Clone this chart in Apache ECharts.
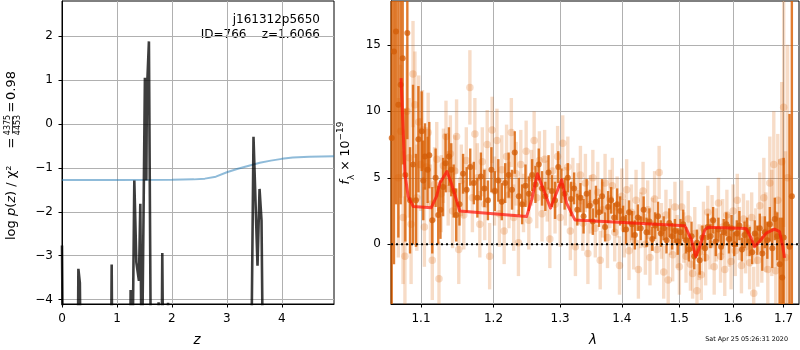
<!DOCTYPE html>
<html><head><meta charset="utf-8">
<script src="https://cdn.jsdelivr.net/npm/echarts@6/dist/echarts.min.js"></script>
<style>html,body{margin:0;padding:0;background:#fff}#c{width:800px;height:350px}</style>
</head><body><div id="c"></div>
<script>
// ---------- left panel: log p(z) ----------
const pzZ   = [0, 0.02, 0.285, 0.298, 0.325, 0.345, 0.89, 0.904, 0.918, 1.24, 1.249, 1.26, 1.278, 1.305, 1.316, 1.353, 1.389, 1.40, 1.425, 1.452, 1.509, 1.535, 1.545, 1.582, 1.62, 1.75, 1.758, 1.77, 1.81, 1.825, 1.845, 1.92, 1.93, 1.945, 3.44, 3.485, 3.558, 3.595, 3.631, 3.66, 4.95];
const pzLog = [-2.77, -6, -6, -3.30, -3.62, -6, -6, -3.20, -6, -6, -3.78, -3.80, -6, -6, -1.29, -3.15, -3.12, -3.57, -1.82, -6, 1.05, -1.29, 0.72, 1.88, -6, -6, -4.06, -6, -6, -2.94, -6, -6, -4.07, -6, -6, -0.29, -3.23, -1.48, -2.20, -6, -6];
const chiZ   = [0, 1.0, 2.0, 2.4, 2.6, 2.8, 3.0, 3.2, 3.4, 3.6, 3.8, 4.0, 4.2, 4.5, 4.95];
const chiVal = [-1.275, -1.275, -1.272, -1.262, -1.245, -1.20, -1.10, -1.02, -0.95, -0.885, -0.835, -0.795, -0.765, -0.745, -0.735];
const zTicks = [0, 1, 2, 3, 4];
const logpTicks = [-4, -3, -2, -1, 0, 1, 2];

// ---------- right panel: spectrum ----------
const darkLam = [1.0620,1.0649,1.0675,1.0705,1.0735,1.0761,1.0795,1.0821,1.0856,1.0895,1.0934,1.0966,1.1009,1.1030,1.1053,1.1088,1.1110,1.1150,1.1195,1.1230,1.1260,1.1296,1.1330,1.1375,1.1407,1.1440,1.1475,
 1.152,1.157,1.162,1.167,1.172,1.177,1.182,1.187,1.192,1.197,1.202,1.207,1.212,1.217,1.222,1.227,1.231,1.237,1.242,1.247,
 1.252,1.257,1.262,1.267,1.272,1.277,1.282,1.287,1.292,1.297,1.302,1.307,1.312,1.317,1.322,
 1.327,1.332,1.337,1.342,1.347,1.352,1.357,1.362,1.367,1.372,1.377,1.382,1.387,1.392,1.397,
 1.402,1.407,1.412,1.417,1.422,1.427,1.432,1.437,1.442,1.447,1.452,1.457,1.462,1.467,1.472,1.477,1.482,1.487,1.492,1.497,
 1.502,1.507,1.512,1.517,1.522,1.527,1.532,1.537,1.542,1.547,
 1.552,1.557,1.562,1.567,1.572,1.577,1.582,1.587,1.592,1.597,1.602,1.607,1.612,1.617,1.622,1.627,1.632,1.637,1.642,1.647,
 1.652,1.657,1.662,1.667,1.672,1.677,1.682,1.687,1.692,1.697,1.700,1.712,1.7168];
const darkFlux = [8.0,14.5,16.0,10.5,12.0,14.0,5.2,15.9,3.3,6.0,3.3,7.9,8.5,4.8,6.6,5.6,6.7,1.8,5.0,2.2,2.6,4.3,6.1,6.6,5.6,4.0,2.2,
 3.0,5.3,4.1,5.8,4.6,3.5,5.1,4.2,3.3,5.6,4.0,4.8,3.2,4.6,5.2,4.1,6.9,3.6,3.0,4.4,
 3.8,5.2,4.5,6.0,4.2,3.6,5.4,4.0,3.3,5.8,4.4,3.8,5.0,3.4,4.2,
 2.6,3.5,2.1,3.8,2.9,1.7,3.2,2.4,3.6,1.3,2.8,3.3,2.0,3.0,2.5,
 1.9,1.1,2.4,1.5,0.7,2.0,1.2,2.6,0.9,1.7,0.4,1.4,2.1,0.8,1.2,0.3,1.6,0.6,1.0,0.2,
 0.9,1.5,0.3,-0.4,0.6,-0.9,0.1,-1.2,0.5,-0.3,
 1.3,0.6,1.8,0.2,1.1,-0.2,0.9,1.5,0.4,1.2,0.0,0.8,1.4,-0.4,0.7,1.0,0.2,-0.6,0.8,0.3,
 1.2,-0.7,0.9,0.3,1.5,-0.3,1.9,0.6,-1.5,-2.5,0.5,-0.2,3.6];
const darkErr = [20,16,13,10,9,8,5,8,4,6,3.5,4,3,3,2.5,2.5,2.5,2.5,2.2,2.2,2.2,2.2,2.2,2.2,2.0,2.0,2.0,
 1.6,1.5,1.7,1.4,1.6,1.5,1.8,1.4,1.5,1.7,1.5,1.6,1.4,1.5,1.7,1.5,1.6,1.4,1.5,1.6,
 1.3,1.2,1.4,1.2,1.3,1.1,1.3,1.2,1.4,1.2,1.3,1.2,1.1,1.3,1.2,
 1.2,1.1,1.3,1.1,1.2,1.0,1.2,1.1,1.3,1.1,1.2,1.0,1.1,1.2,1.1,
 1.0,1.1,0.9,1.0,1.1,1.0,0.9,1.0,1.1,1.0,0.9,1.0,1.1,1.0,0.9,1.0,1.1,1.0,0.9,1.0,
 1.0,1.1,1.0,0.9,1.1,1.0,1.0,1.1,0.9,1.0,
 1.0,0.9,1.0,1.1,0.9,1.0,1.0,0.9,1.1,1.0,0.9,1.0,1.1,0.9,1.0,1.0,1.1,0.9,1.0,1.1,
 1.1,1.3,1.2,1.4,1.3,1.5,1.6,1.8,3.5,4.5,6,10,15];

const lightLam = [1.0705,1.0735,1.0765,1.0790,1.0815,1.0845,1.0870,1.0895,1.0920,1.0945,1.0970,1.0995,
 1.1020,1.1045,1.1070,1.1095,1.1125,1.1150,1.1180,1.1210,1.1240,1.1270,1.1300,1.1335,1.1365,1.1395,1.1425,1.1455,1.1480,
 1.1510,1.1545,1.1580,1.1615,1.1665,1.1700,1.1735,1.1770,1.1805,1.1840,1.1875,1.1910,1.1945,
 1.1980,1.2015,1.2050,1.2085,1.2120,1.2155,1.2190,1.2225,1.2260,1.2295,1.2330,1.2365,1.2400,
 1.2440,1.2480,1.2520,1.2560,1.2600,1.2640,1.2680,1.2720,1.2760,1.2800,1.2840,1.2880,1.2920,1.2960,1.3000,1.3040,1.3080,1.3120,1.3160,1.3200,
 1.3240,1.3280,1.3320,1.3360,1.3400,1.3440,1.3480,1.3520,1.3560,1.3600,1.3640,1.3680,1.3720,1.3760,1.3800,1.3840,1.3880,1.3920,1.3960,1.4000,
 1.4040,1.4080,1.4120,1.4160,1.4200,1.4240,1.4280,1.4320,1.4360,1.4400,1.4440,1.4480,
 1.4520,1.4560,1.4600,1.4640,1.4680,1.4720,1.4760,1.4800,1.4840,1.4880,1.4920,1.4960,1.5000,1.5040,1.5080,1.5120,1.5160,1.5200,1.5240,1.5280,
 1.5320,1.5360,1.5400,1.5440,1.5480,1.5520,1.5560,1.5600,1.5640,1.5680,1.5720,1.5760,1.5800,1.5840,1.5880,1.5920,1.5960,1.6000,1.6040,1.6080,
 1.6120,1.6160,1.6200,1.6240,1.6280,1.6320,1.6360,1.6400,1.6440,1.6480,
 1.6520,1.6560,1.6600,1.6640,1.6680,1.6720,1.6760,1.6800,1.6840,1.6880,1.6920,1.6960,1.7000,1.7040,1.7080];
const lightFlux = [5.0,8.5,2.0,-0.9,10.0,6.5,1.5,12.8,10.5,3.5,9.2,6.0,
 8.6,1.3,5.8,8.4,3.0,-1.2,4.5,6.4,-2.6,3.8,5.9,8.1,4.2,6.8,2.5,5.5,8.1,
 -0.4,4.8,2.2,6.3,11.8,3.5,8.3,5.0,1.5,6.2,3.0,7.5,-0.9,
 8.6,4.0,7.8,2.3,5.6,1.0,6.6,3.7,8.4,2.0,5.3,0.1,6.0,
 3.1,7.0,1.8,5.0,7.8,3.5,6.3,2.3,6.4,4.0,0.4,5.5,3.0,6.6,2.0,7.6,3.6,5.8,1.0,4.4,
 -0.2,3.8,5.2,1.6,4.6,-0.7,3.0,5.0,1.2,3.9,-1.2,2.6,4.6,0.5,3.4,4.4,0.9,2.8,-1.6,3.6,
 1.2,4.1,-0.5,2.4,0.3,3.3,-1.9,1.8,4.0,0.0,2.6,-1.0,
 1.5,3.4,-0.4,5.4,1.0,-2.1,2.2,-2.7,1.3,-0.8,2.8,0.2,-1.7,2.8,0.5,-0.9,1.9,-1.5,-2.2,0.8,
 -3.5,-0.6,-2.3,1.2,-1.0,2.4,0.0,1.7,-1.7,0.7,3.1,-0.9,1.3,-1.9,2.2,0.3,-1.3,2.5,-0.5,3.3,
 0.8,-1.6,1.9,-0.2,1.2,-1.4,2.0,-3.7,0.6,-1.2,
 2.9,-0.4,3.5,0.9,-1.9,4.6,1.6,6.0,-2.0,3.3,0.4,6.2,10.3,-1.0,5.0];
const lightErr = [6,5,5,4.5,5,4.5,4.5,4,4,4,3.5,3.5,
 3,3,3,3,3,3,2.8,2.8,2.8,2.9,2.8,2.7,2.8,2.9,2.8,2.7,2.8,
 2.6,2.7,2.6,2.5,2.8,2.6,2.7,2.6,2.5,2.6,2.7,2.6,2.5,
 2.5,2.6,2.4,2.5,2.6,2.5,2.4,2.5,2.6,2.5,2.4,2.5,2.6,
 2.2,2.3,2.2,2.1,2.2,2.3,2.2,2.1,2.2,2.3,2.2,2.1,2.2,2.3,2.2,2.1,2.2,2.3,2.2,2.1,
 2.2,2.3,2.2,2.1,2.2,2.3,2.2,2.1,2.2,2.3,2.2,2.1,2.2,2.3,2.2,2.1,2.2,2.3,2.2,2.1,
 2.2,2.3,2.2,2.1,2.2,2.3,2.2,2.1,2.2,2.3,2.2,2.1,
 2.0,2.1,1.9,2.0,2.1,2.0,1.9,2.0,2.1,2.0,1.9,2.0,2.1,2.0,1.9,2.0,2.1,2.0,1.9,2.0,
 2.0,2.1,1.9,2.0,2.1,2.0,1.9,2.0,2.1,2.0,1.9,2.0,2.1,2.0,1.9,2.0,2.1,2.0,1.9,2.0,
 2.0,2.1,1.9,2.0,2.1,2.0,1.9,2.0,2.1,2.0,
 2.5,2.5,3,3,3.5,3.5,4,4,4.5,5,6,6,9,8,10];

const modelLam  = [1.0740,1.0768,1.0789,1.0831,1.0898,1.1136,1.1207,1.1252,1.1348,1.1407,1.1524,1.2487,1.2562,1.2650,1.2850,1.3023,1.3100,1.3232,1.5100,1.5220,1.5298,1.5371,1.5464,1.5525,1.6250,1.6350,1.6415,1.6514,1.6647,1.6814,1.6916,1.6983,1.7017];
const modelFlux = [12.5,8.4,5.4,3.6,2.83,2.75,3.6,4.6,5.47,4.6,2.5,2.08,3.34,5.3,2.71,4.85,3.09,1.83,1.38,0.32,-0.93,-0.18,1.08,1.28,1.18,0.45,-0.18,0.2,0.83,1.13,0.95,-0.18,-1.03];
const lamTicks  = [1.1, 1.2, 1.3, 1.4, 1.5, 1.6, 1.7];
const fluxTicks = [0, 5, 10, 15];

// axis extents
const Z_MIN = 0, Z_MAX = 4.95, LOGP_MIN = -4.1, LOGP_MAX = 2.8;
const LAM_MIN = 1.0611, LAM_MAX = 1.7316, FLUX_MIN = -4.5, FLUX_MAX = 18.3;

const F = 'DejaVu Sans';
const lg = Math.log10;
const minus = v => (v < 0 ? '\u2212' : '') + Math.abs(v);

function axisBase(ticks, fmt, margin) {
  return {
    axisLine: {show: true, onZero: false, lineStyle: {color: '#000', width: 1}},
    axisTick: {show: true, inside: false, length: 3.5, customValues: ticks, lineStyle: {color: '#000', width: 1}},
    axisLabel: {show: true, customValues: ticks, formatter: fmt, color: '#000', fontFamily: F, fontSize: 12, margin: margin},
    splitLine: {show: true, lineStyle: {color: '#b0b0b0', width: 1}}
  };
}

function errBars(lam, flux, err, color, width) {
  return {
    type: 'custom', xAxisIndex: 1, yAxisIndex: 1, silent: true, animation: false,
    data: lam.map((l, i) => [lg(l), flux[i], err[i]]),
    encode: {x: 0, y: 1},
    renderItem: function (params, api) {
      const x = api.value(0), y = api.value(1), e = api.value(2);
      const lo = Math.max(y - e, FLUX_MIN), hi = Math.min(y + e, FLUX_MAX);
      const p1 = api.coord([x, lo]), p2 = api.coord([x, hi]);
      return {type: 'line', shape: {x1: p1[0], y1: p1[1], x2: p2[0], y2: p2[1]},
              style: {stroke: color, lineWidth: width}};
    }
  };
}

const txt = (t, x, y, size, align, extra) => ({type: 'text', x: x, y: y,
  style: Object.assign({text: t, fontFamily: F, fontSize: size, fill: '#000', align: align, verticalAlign: 'middle'}, extra || {})});

const chart = echarts.init(document.getElementById('c'), null, {renderer: 'canvas'});
const option = {
  animation: false,
  backgroundColor: '#fff',
  grid: [
    {left: 62, top: 1, width: 272, height: 303, show: true, borderColor: '#000', borderWidth: 1, backgroundColor: 'transparent', outerBoundsMode: 'none', containLabel: false},
    {left: 391, top: 1, width: 408, height: 303, show: true, borderColor: '#000', borderWidth: 1, backgroundColor: 'transparent', outerBoundsMode: 'none', containLabel: false}
  ],
  xAxis: [
    Object.assign({type: 'value', gridIndex: 0, min: Z_MIN, max: Z_MAX}, axisBase(zTicks, v => String(v), 9)),
    Object.assign({type: 'value', gridIndex: 1, min: lg(LAM_MIN), max: lg(LAM_MAX)}, axisBase(lamTicks.map(lg), v => Math.pow(10, v).toFixed(1), 9))
  ],
  yAxis: [
    Object.assign({type: 'value', gridIndex: 0, min: LOGP_MIN, max: LOGP_MAX}, axisBase(logpTicks, minus, 9)),
    Object.assign({type: 'value', gridIndex: 1, min: FLUX_MIN, max: FLUX_MAX}, axisBase(fluxTicks, minus, 10))
  ],
  series: [
    {type: 'line', xAxisIndex: 0, yAxisIndex: 0, data: chiZ.map((z, i) => [z, chiVal[i]]), showSymbol: false, symbol: 'none', clip: true,
     lineStyle: {color: 'rgba(31,119,180,0.5)', width: 2}},
    {type: 'line', xAxisIndex: 0, yAxisIndex: 0, data: pzZ.map((z, i) => [z, pzLog[i]]), showSymbol: false, symbol: 'none', clip: true,
     lineStyle: {color: 'rgba(0,0,0,0.76)', width: 2.6, join: 'miter'}},
    errBars(lightLam, lightFlux, lightErr, 'rgba(217,95,2,0.22)', 3.4),
    {type: 'scatter', xAxisIndex: 1, yAxisIndex: 1, data: lightLam.map((l, i) => [lg(l), lightFlux[i]]), symbol: 'circle', symbolSize: 7.5, clip: true,
     itemStyle: {color: 'rgba(217,95,2,0.28)'}},
    errBars(darkLam, darkFlux, darkErr, 'rgba(217,95,2,0.82)', 2.4),
    {type: 'scatter', xAxisIndex: 1, yAxisIndex: 1, data: darkLam.map((l, i) => [lg(l), darkFlux[i]]), symbol: 'circle', symbolSize: 6, clip: true,
     itemStyle: {color: 'rgba(210,92,6,0.95)'}},
    {type: 'line', xAxisIndex: 1, yAxisIndex: 1, data: [[lg(LAM_MIN), 0], [lg(LAM_MAX), 0]], showSymbol: false, symbol: 'none',
     lineStyle: {color: '#000', width: 2, type: [2, 3]}},
    {type: 'line', xAxisIndex: 1, yAxisIndex: 1, data: modelLam.map((l, i) => [lg(l), modelFlux[i]]), showSymbol: false, symbol: 'none', clip: true,
     lineStyle: {color: 'rgba(255,20,10,0.72)', width: 3, join: 'round'}}
  ],
  graphic: [
    txt('j161312p5650', 320, 20, 12, 'right'),
    txt('ID=766    z=1.6066', 320, 34.5, 12, 'right'),
    txt('z', 197, 340, 13.5, 'center', {fontStyle: 'italic'}),
    txt('λ', 593, 340, 13.5, 'center', {fontStyle: 'italic'}),
    txt('Sat Apr 25 05:26:31 2020', 788, 339, 6.4, 'right'),
    {type: 'group', x: 12, y: 154, rotation: Math.PI / 2, children: [
      {type: 'text', x: -86, y: 0, style: {text: '{n|log }{i|p}{n|(}{i|z}{n|) / χ²}', fontFamily: F, fontSize: 13, fill: '#000', align: 'left', verticalAlign: 'middle',
        rich: {n: {fontFamily: F, fontSize: 13, fill: '#000'}, i: {fontFamily: F, fontSize: 13, fontStyle: 'italic', fill: '#000'}}}},
      txt('=', 11, 0, 13, 'center'),
      txt('4375', 29, -4.5, 8, 'center'),
      {type: 'line', shape: {x1: 20.5, y1: 0.5, x2: 37.5, y2: 0.5}, style: {stroke: '#000', lineWidth: 0.8}},
      txt('4453', 29, 5.5, 8, 'center'),
      txt('=', 47, 0, 13, 'center'),
      txt('0.98', 54, 0, 13, 'left')
    ]},
    {type: 'group', x: 346, y: 153, rotation: Math.PI / 2, children: [
      {type: 'text', x: 0, y: 0, style: {text: '{i|f}{sub|λ}{n| × 10}{sup|−19}', fontFamily: F, fontSize: 12.5, fill: '#000', align: 'center', verticalAlign: 'middle',
        rich: {i: {fontFamily: F, fontSize: 12.5, fontStyle: 'italic', fill: '#000', lineHeight: 20},
               n: {fontFamily: F, fontSize: 12.5, fill: '#000', lineHeight: 20},
               sub: {fontFamily: F, fontSize: 9, fill: '#000', verticalAlign: 'bottom', lineHeight: 20},
               sup: {fontFamily: F, fontSize: 9, fill: '#000', verticalAlign: 'top', lineHeight: 20}}}}
    ]}
  ]
};
chart.setOption(option);
</script>
</body></html>
